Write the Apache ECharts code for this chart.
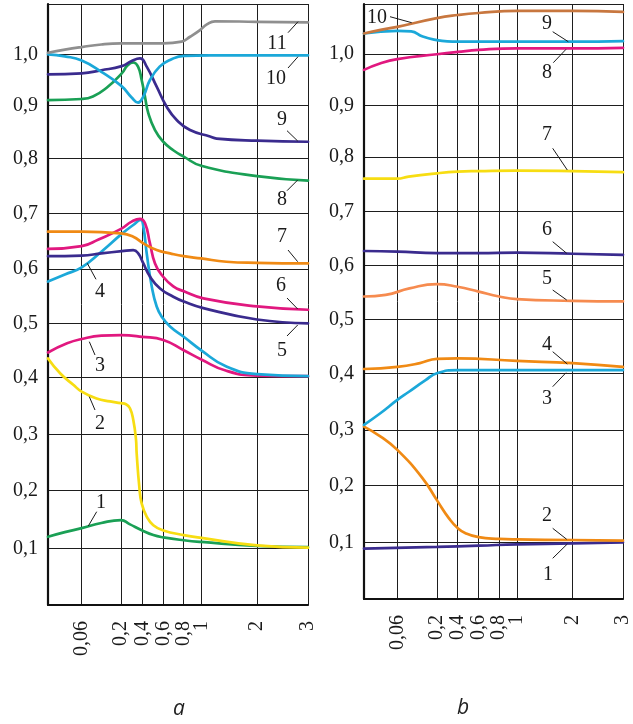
<!DOCTYPE html>
<html><head><meta charset="utf-8">
<script src="https://cdn.jsdelivr.net/npm/echarts@6/dist/echarts.min.js"></script>
<style>html,body{margin:0;padding:0;background:#fff}#c{width:633px;height:724px}</style>
</head><body><div id="c"></div>
<script>
// ---------- tick values / labels ----------
const xTickValues = [0.06, 0.2, 0.4, 0.6, 0.8, 1, 2, 3];
const xTickLabels = ['0,06', '0,2', '0,4', '0,6', '0,8', '1', '2', '3'];
const yTickValues = [0.1, 0.2, 0.3, 0.4, 0.5, 0.6, 0.7, 0.8, 0.9, 1.0];
const yTickLabels = ['0,1', '0,2', '0,3', '0,4', '0,5', '0,6', '0,7', '0,8', '0,9', '1,0'];
const panelNames = ['a', 'b'];

// ---------- panel a : curves 1..11 ([x, y]) ----------
const a1 = [[0,0.120],[0.03,0.128],[0.06,0.135],[0.13,0.144],[0.2,0.149],[0.28,0.142],[0.4,0.131],[0.505,0.123],[0.6,0.119],[0.8,0.114],[1,0.111],[2,0.104],[3,0.102]];
const a2 = [[0,0.435],[0.022,0.407],[0.045,0.387],[0.06,0.375],[0.113,0.363],[0.161,0.358],[0.2,0.355],[0.247,0.353],[0.284,0.346],[0.315,0.326],[0.341,0.291],[0.347,0.267],[0.372,0.207],[0.394,0.178],[0.442,0.155],[0.505,0.140],[0.6,0.131],[0.8,0.123],[1,0.118],[2,0.105],[3,0.101]];
const a3 = [[0,0.446],[0.034,0.463],[0.06,0.471],[0.13,0.477],[0.2,0.478],[0.4,0.475],[0.6,0.469],[0.8,0.45],[1,0.433],[1.45,0.412],[2,0.403],[3,0.402]];
const a4 = [[0,0.577],[0.03,0.590],[0.06,0.603],[0.13,0.631],[0.207,0.663],[0.315,0.679],[0.385,0.688],[0.41,0.676],[0.442,0.628],[0.49,0.568],[0.537,0.531],[0.585,0.512],[0.666,0.494],[0.8,0.475],[1,0.450],[1.45,0.420],[2,0.406],[3,0.402]];
const a5 = [[0,0.623],[0.06,0.624],[0.13,0.628],[0.207,0.632],[0.315,0.634],[0.362,0.628],[0.41,0.610],[0.473,0.586],[0.569,0.564],[0.698,0.549],[0.803,0.540],[1.036,0.528],[2,0.507],[3,0.500]];
const a6 = [[0,0.636],[0.06,0.641],[0.12,0.653],[0.2,0.672],[0.3,0.685],[0.378,0.690],[0.426,0.682],[0.473,0.646],[0.521,0.610],[0.585,0.589],[0.698,0.568],[0.803,0.559],[1.036,0.546],[2,0.531],[3,0.525]];
const a7 = [[0,0.667],[0.06,0.667],[0.2,0.664],[0.315,0.658],[0.41,0.646],[0.537,0.634],[0.666,0.628],[0.8,0.623],[1,0.619],[1.45,0.613],[2,0.611],[3,0.610]];
const a8 = [[0,0.911],[0.06,0.913],[0.1,0.918],[0.149,0.935],[0.207,0.963],[0.26,0.978],[0.315,0.984],[0.36,0.976],[0.394,0.950],[0.425,0.918],[0.457,0.886],[0.521,0.854],[0.6,0.832],[0.698,0.816],[0.8,0.804],[1,0.787],[2,0.768],[3,0.760]];
const a9 = [[0,0.961],[0.06,0.963],[0.13,0.969],[0.207,0.977],[0.3,0.987],[0.378,0.992],[0.442,0.976],[0.537,0.937],[0.633,0.898],[0.731,0.873],[0.872,0.854],[1.156,0.842],[1.276,0.838],[2,0.834],[3,0.832]];
const a10 = [[0,1.0],[0.03,0.996],[0.06,0.988],[0.13,0.966],[0.2,0.939],[0.3,0.916],[0.36,0.906],[0.41,0.918],[0.473,0.95],[0.565,0.976],[0.666,0.989],[0.803,0.997],[1.156,0.998],[2,0.998],[3,0.998]];
const a11 = [[0,1.003],[0.03,1.009],[0.06,1.014],[0.13,1.019],[0.2,1.021],[0.4,1.021],[0.6,1.021],[0.78,1.0245],[0.872,1.034],[0.985,1.047],[1.1,1.058],[1.246,1.064],[2,1.063],[3,1.062]];

// ---------- panel b : curves 1..10 ----------
const b1 = [[0,0.089],[0.2,0.092],[0.6,0.094],[1,0.0965],[2,0.098],[3,0.100]];
const b2 = [[0,0.306],[0.03,0.288],[0.06,0.264],[0.149,0.213],[0.2,0.174],[0.317,0.142],[0.4,0.125],[0.475,0.116],[0.6,0.109],[0.8,0.106],[1,0.105],[2,0.104],[3,0.103]];
const b3 = [[0,0.309],[0.03,0.330],[0.06,0.353],[0.1,0.367],[0.16,0.388],[0.2,0.400],[0.4,0.406],[1,0.406],[3,0.406]];
const b4 = [[0,0.408],[0.06,0.412],[0.14,0.419],[0.2,0.427],[0.4,0.428],[1,0.423],[2,0.419],[3,0.412]];
const b5 = [[0,0.543],[0.039,0.546],[0.103,0.558],[0.2,0.566],[0.4,0.561],[0.6,0.552],[0.8,0.543],[1,0.538],[2,0.535],[3,0.534]];
const b6 = [[0,0.627],[0.06,0.626],[0.2,0.623],[0.6,0.623],[1,0.624],[2,0.622],[3,0.620]];
const b7 = [[0,0.760],[0.06,0.760],[0.1,0.764],[0.2,0.770],[0.4,0.773],[0.6,0.774],[1,0.775],[2,0.774],[3,0.772]];
const b8 = [[0,0.969],[0.03,0.982],[0.06,0.990],[0.2,0.9995],[0.4,1.004],[0.6,1.008],[1,1.011],[2,1.011],[3,1.012]];
const b9 = [[0,1.040],[0.06,1.045],[0.109,1.044],[0.15,1.034],[0.2,1.027],[0.3,1.0245],[0.4,1.024],[1,1.024],[2,1.024],[3,1.025]];
const b10 = [[0,1.040],[0.03,1.047],[0.06,1.053],[0.2,1.070],[0.4,1.076],[0.6,1.080],[1,1.084],[2,1.084],[3,1.082]];

// ---------- layout / style (not data) ----------
const C = {gray:'#8f8f8f', cyan:'#1ba8d9', indigo:'#3a2b8e', green:'#1aa055', orange:'#f08a14',
           magenta:'#e1187f', yellow:'#f7dd12', brown:'#c8773f', lorange:'#f68b4f'};
const panelASeries = [[a1,C.green],[a2,C.yellow],[a3,C.magenta],[a4,C.cyan],[a5,C.indigo],[a6,C.magenta],
                      [a7,C.orange],[a8,C.green],[a9,C.indigo],[a10,C.cyan],[a11,C.gray]];
const panelBSeries = [[b1,C.indigo],[b2,C.orange],[b3,C.cyan],[b4,C.orange],[b5,C.lorange],[b6,C.indigo],
                      [b7,C.yellow],[b8,C.magenta],[b9,C.cyan],[b10,C.brown]];

// piecewise scale of the original drawing (real value -> offset in px inside the grid)
const xReal = [0, 0.06, 0.2, 0.4, 0.6, 0.8, 1, 2, 3];
const yReal = [0, 0.1, 0.2, 0.3, 0.4, 0.5, 0.6, 0.7, 0.8, 0.9, 1.0, 1.0975];
const grids = [
  {left:48, top:4, width:260, height:601,
   xPos:[0,33.7,73,94.3,115.3,135.7,153.3,209,260],
   yPos:[0,56.7,114.3,170.3,227.7,281.7,336,391.7,446.3,499.3,550.7,601]},
  {left:364, top:4, width:262, height:595,
   xPos:[0,33.7,73.7,94.7,116,136.7,154.7,211,262],
   yPos:[0,56.7,113.7,169,225.7,279.3,333.3,387.7,442,493.7,545,595]}
];
function interp(v, src, dst) {
  let i = 0;
  while (i < src.length - 2 && v > src[i + 1]) i++;
  const t = (v - src[i]) / (src[i + 1] - src[i]);
  return dst[i] + t * (dst[i + 1] - dst[i]);
}
function mapData(arr, g) {
  return arr.map(p => [interp(p[0], xReal, g.xPos), interp(p[1], yReal, g.yPos)]);
}
function labelFor(v, values, labels, pos, realArr) {
  for (let i = 0; i < values.length; i++) {
    if (Math.abs(interp(values[i], realArr, pos) - v) < 0.01) return labels[i];
  }
  return '';
}

const serif = '"Liberation Serif", "Times New Roman", serif';
const option = {
  animation: false,
  backgroundColor: '#fff',
  grid: grids.map(g => ({left:g.left, top:g.top, width:g.width, height:g.height, containLabel:false})),
  xAxis: grids.map((g, gi) => {
    const vals = xTickValues.map(v => interp(v, xReal, g.xPos));
    return {
      type:'value', gridIndex:gi, min:0, max:g.width,
      axisLine:{show:true, onZero:false, lineStyle:{color:'#111', width:2.2}},
      axisTick:{show:false, customValues:vals},
      splitLine:{show:true, lineStyle:{color:'#1e1e1e', width:1}},
      axisLabel:{show:true, customValues:vals, rotate:90, margin:16, fontFamily:serif, fontSize:20, color:'#1a1a1a',
        formatter: v => labelFor(v, xTickValues, xTickLabels, g.xPos, xReal)}
    };
  }),
  yAxis: grids.map((g, gi) => {
    const vals = yTickValues.map(v => interp(v, yReal, g.yPos));
    return {
      type:'value', gridIndex:gi, min:0, max:g.height,
      axisLine:{show:true, onZero:false, lineStyle:{color:'#111', width:2.2}},
      axisTick:{show:false, customValues:vals.concat([g.height])},
      splitLine:{show:true, lineStyle:{color:'#1e1e1e', width:1}},
      axisLabel:{show:true, customValues:vals, margin:10, fontFamily:serif, fontSize:20, color:'#1a1a1a',
        formatter: v => labelFor(v, yTickValues, yTickLabels, g.yPos, yReal)}
    };
  }),
  series: []
};
[panelASeries, panelBSeries].forEach((list, gi) => {
  list.forEach(([arr, color]) => {
    option.series.push({
      type:'line', xAxisIndex:gi, yAxisIndex:gi, data:mapData(arr, grids[gi]),
      smooth:0.5, showSymbol:false, silent:true, clip:false,
      lineStyle:{color:color, width:2.7, cap:'round', join:'round'}
    });
  });
});

// curve number annotations (layout positions in px): [text, tx, ty, x1, y1, x2, y2]
const annotations = [
  ['11',277,44,288,32.7,298,21.7], ['10',276,79,288,68,298,56.7], ['9',282,120,287,130.7,297.7,141],
  ['8',282,200,287,190.7,297.7,180], ['7',282,237,288,250,297.7,261.7], ['6',281,286,287,298,297.7,309],
  ['5',282,351,287,336,297.7,325], ['4',100,292,87.3,263.3,96,279.3], ['3',100,366,89.3,341.7,95,355],
  ['2',100,424,89.3,396.7,95,410], ['1',101,503,88.3,526,96.7,511.7],
  ['10',377,17.5,390,16.7,411.7,22.7], ['9',547,24,552.7,31.7,568.3,41.7], ['8',547,73,553.3,62.7,566,49.3],
  ['7',547,135,552.7,148.3,567.3,170], ['6',547,230,552.7,241.7,566.7,253.3], ['5',547,279,552.7,290,566.7,300],
  ['4',547,345,552.7,351.7,567.3,364], ['3',547,399,552.7,386.7,566,372.7], ['2',547,516,552.7,528.3,566.7,539.3],
  ['1',548,575,552.7,558.3,567.3,544]
];
const graphic = [];
annotations.forEach(a => {
  graphic.push({type:'text', x:a[1], y:a[2], z:100, silent:true,
    style:{text:a[0], fill:'#1a1a1a', font:'20px ' + serif, align:'center', verticalAlign:'middle'}});
  graphic.push({type:'line', z:100, silent:true, shape:{x1:a[3], y1:a[4], x2:a[5], y2:a[6]},
    style:{stroke:'#1a1a1a', lineWidth:1}});
});
graphic.push({type:'text', x:179, y:709, silent:true,
  style:{text:panelNames[0], fill:'#222', font:'italic 21px "Open Sans", sans-serif', align:'center', verticalAlign:'middle'}});
graphic.push({type:'text', x:463, y:708, silent:true,
  style:{text:panelNames[1], fill:'#222', font:'italic 21px "Open Sans", sans-serif', align:'center', verticalAlign:'middle'}});
option.graphic = graphic;

const chart = echarts.init(document.getElementById('c'), null, {renderer:'canvas'});
chart.setOption(option);
</script>
</body></html>
